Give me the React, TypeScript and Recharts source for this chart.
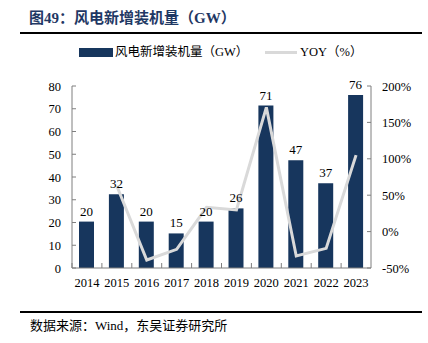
import React from "react";
import {
  ComposedChart,
  Bar,
  Line,
  XAxis,
  YAxis,
  LabelList,
  Legend,
} from "recharts";

const years = ["2014", "2015", "2016", "2017", "2018", "2019", "2020", "2021", "2022", "2023"];
const installed = [20.4, 32.4, 20.4, 15.2, 20.4, 26.2, 71.4, 47.4, 37.3, 76.0];
const yoy: (number | null)[] = [null, 62.6, -39, -24.4, 33.3, 29.7, 170.7, -33.5, -23, 105];
const leftTicks = [0, 10, 20, 30, 40, 50, 60, 70, 80];
const rightTicks = [-50, 0, 50, 100, 150, 200];

const data = years.map((y, i) => ({ year: y, installed: installed[i], yoy: yoy[i] }));

const NAVY = "#17365d";
const GRAY_LINE = "#d9d9d9";
const AXIS = "#7f7f7f";
const FONT = "'Liberation Serif', 'Times New Roman', 'Noto Sans CJK SC', serif";

const XTick = (props: any) => {
  const { x, y, payload } = props;
  const half = 14.95;
  return (
    <g>
      <line x1={x - half} y1={y} x2={x - half} y2={y - 5} stroke={AXIS} strokeWidth={1} />
      <text x={x} y={y + 19} textAnchor="middle" fontSize={12.5} fontFamily={FONT} fill="#000">
        {payload.value}
      </text>
    </g>
  );
};

const LeftTick = (props: any) => {
  const { x, y, payload } = props;
  return (
    <g>
      <line x1={x} y1={y} x2={x + 4} y2={y} stroke={AXIS} strokeWidth={1} />
      <text x={x - 11} y={y + 4.5} textAnchor="end" fontSize={12.5} fontFamily={FONT} fill="#000">
        {payload.value}
      </text>
    </g>
  );
};

const RightTick = (props: any) => {
  const { x, y, payload } = props;
  return (
    <g>
      <line x1={x - 4} y1={y} x2={x} y2={y} stroke={AXIS} strokeWidth={1} />
      <text x={x + 11} y={y + 4.5} textAnchor="start" fontSize={12.5} fontFamily={FONT} fill="#000">
        {payload.value + "%"}
      </text>
    </g>
  );
};

const LegendContent = () => (
  <div style={{ position: "relative", width: 428, height: 20 }}>
    <div style={{ position: "absolute", left: 79, top: 4, width: 34, height: 9, background: NAVY }} />
    <div
      style={{
        position: "absolute",
        left: 115,
        top: 0,
        fontSize: 12.5,
        fontFamily: FONT,
        lineHeight: "17px",
        whiteSpace: "nowrap",
        color: "#000",
      }}
    >
      风电新增装机量（GW）
    </div>
    <div style={{ position: "absolute", left: 265, top: 7, width: 32, height: 3, background: GRAY_LINE }} />
    <div
      style={{
        position: "absolute",
        left: 300,
        top: 0,
        fontSize: 12.5,
        fontFamily: FONT,
        lineHeight: "17px",
        whiteSpace: "nowrap",
        color: "#000",
      }}
    >
      YOY（%）
    </div>
  </div>
);

export default function App() {
  return (
    <div style={{ position: "absolute", left: 0, top: 0, width: 428, height: 343, background: "#fff" }}>
      <div
        style={{
          position: "absolute",
          left: 29,
          top: 8,
          fontSize: 15,
          fontWeight: "bold",
          fontFamily: FONT,
          color: "#1f3864",
          whiteSpace: "nowrap",
          lineHeight: "20px",
        }}
      >
        图49：风电新增装机量（GW）
      </div>
      <div style={{ position: "absolute", left: 20, top: 32, width: 402, height: 2, background: "#000" }} />

      <div style={{ position: "absolute", left: 0, top: 0 }}>
        <ComposedChart
          width={428}
          height={343}
          data={data}
          margin={{ top: 66, right: 7, bottom: 55, left: 32 }}
        >
          <Legend
            verticalAlign="top"
            height={20}
            content={LegendContent}
            wrapperStyle={{ position: "absolute", top: 44, left: 0, width: 428 }}
          />
          <XAxis
            dataKey="year"
            height={20}
            axisLine={{ stroke: AXIS }}
            tickLine={false}
            tickSize={0}
            tickMargin={0}
            tick={XTick}
            interval={0}
          />
          <YAxis
            yAxisId="left"
            width={40}
            domain={[0, 80]}
            ticks={leftTicks}
            axisLine={{ stroke: AXIS }}
            tickLine={false}
            tickSize={0}
            tickMargin={0}
            tick={LeftTick}
            interval={0}
          />
          <YAxis
            yAxisId="right"
            orientation="right"
            width={50}
            domain={[-50, 200]}
            ticks={rightTicks}
            axisLine={{ stroke: AXIS }}
            tickLine={false}
            tickSize={0}
            tickMargin={0}
            tick={RightTick}
            interval={0}
          />
          <Bar yAxisId="left" dataKey="installed" fill={NAVY} barSize={15} isAnimationActive={false}>
            <LabelList
              dataKey="installed"
              position="top"
              offset={6}
              formatter={(v: any) => Math.round(Number(v))}
              style={{ fontSize: 13, fontFamily: FONT, fill: "#000" }}
            />
          </Bar>
          <Line
            yAxisId="right"
            dataKey="yoy"
            stroke={GRAY_LINE}
            strokeWidth={3}
            dot={false}
            activeDot={false}
            connectNulls={false}
            isAnimationActive={false}
          />
        </ComposedChart>
      </div>

      <div style={{ position: "absolute", left: 20, top: 311, width: 402, height: 1.5, background: "#000" }} />
      <div
        style={{
          position: "absolute",
          left: 30,
          top: 317,
          fontSize: 13,
          fontFamily: FONT,
          color: "#000",
          whiteSpace: "nowrap",
          lineHeight: "18px",
        }}
      >
        数据来源：Wind，东吴证券研究所
      </div>
    </div>
  );
}
